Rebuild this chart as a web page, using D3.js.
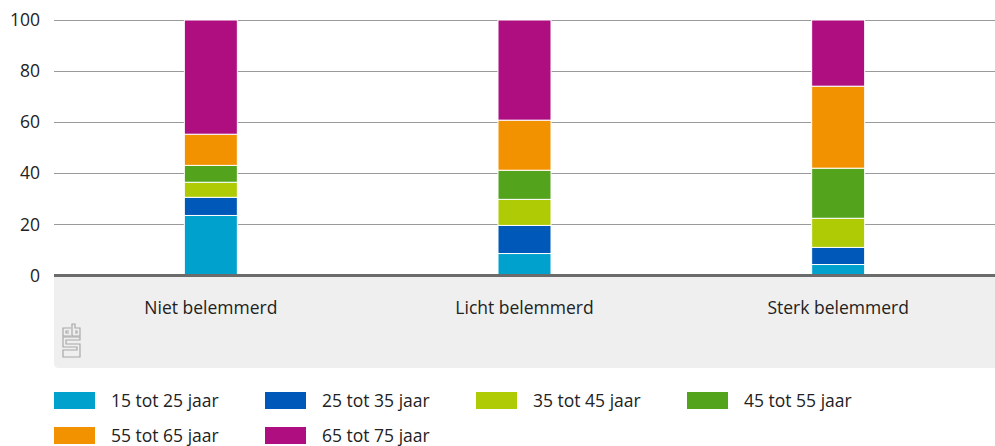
<!DOCTYPE html>
<html>
<head>
<meta charset="utf-8">
<script src="https://cdn.jsdelivr.net/npm/d3@7"></script>
<style>
  body { margin: 0; background: #fff; }
  svg { display: block; font-family: "Open Sans", Roboto, sans-serif; }
</style>
</head>
<body>
<div id="chart"></div>
<script>
// categories and series (percentages)
var categories = ["Niet belemmerd", "Licht belemmerd", "Sterk belemmerd"];
var seriesNames = ["15 tot 25 jaar", "25 tot 35 jaar", "35 tot 45 jaar", "45 tot 55 jaar", "55 tot 65 jaar", "65 tot 75 jaar"];
var age15_25 = [23.5, 8.6, 4.3];
var age25_35 = [7.1, 11.0, 6.7];
var age35_45 = [5.9, 10.2, 11.4];
var age45_55 = [6.6, 11.4, 19.6];
var age55_65 = [12.2, 19.6, 32.1];
var age65_75 = [44.7, 39.2, 25.9];
var yTicks = [0, 20, 40, 60, 80, 100];
var colors = ["#00a1cd", "#0058b8", "#afcb05", "#53a31d", "#f39200", "#af0e80"];

var allSeries = [age15_25, age25_35, age35_45, age45_55, age55_65, age65_75];
var rows = categories.map(function(c, i) {
  var r = {cat: c};
  seriesNames.forEach(function(s, j) { r[s] = allSeries[j][i]; });
  return r;
});

var width = 995, height = 446;
var margin = {top: 20, right: 0, bottom: 171, left: 54};
var fs = 17.5;

var svg = d3.select("#chart").append("svg")
  .attr("width", width)
  .attr("height", height);

var x = d3.scaleBand()
  .domain(categories)
  .range([margin.left, width - margin.right]);
var y = d3.scaleLinear()
  .domain([0, 100])
  .range([height - margin.bottom + 0.5, margin.top]);

// grey panel under the axis
var panelTop = y(0) + 1;
svg.append("path")
  .attr("fill", "#efefef")
  .attr("d", function() {
    var x0 = margin.left, x1 = width, y0 = panelTop, y1 = 368, r = 5;
    return "M" + x0 + "," + y0 + "H" + x1 + "V" + y1 + "H" + (x0 + r) +
      "Q" + x0 + "," + y1 + " " + x0 + "," + (y1 - r) + "Z";
  });

// gridlines
svg.append("g")
  .selectAll("line")
  .data(yTicks.filter(function(d) { return d > 0; }))
  .join("line")
  .attr("x1", margin.left)
  .attr("x2", width)
  .attr("y1", function(d) { return Math.round(y(d)) + 0.5; })
  .attr("y2", function(d) { return Math.round(y(d)) + 0.5; })
  .attr("stroke", "#9a9a9a")
  .attr("stroke-width", 1);

// y tick labels
svg.append("g")
  .selectAll("text")
  .data(yTicks)
  .join("text")
  .attr("x", 40)
  .attr("y", function(d) { return y(d); })
  .attr("dy", "0.35em")
  .attr("text-anchor", "end")
  .attr("font-size", fs)
  .attr("fill", "#222")
  .text(function(d) { return d; });

// stacked bars
var stack = d3.stack().keys(seriesNames)(rows);
var barW = 53;
svg.append("g")
  .selectAll("g")
  .data(stack)
  .join("g")
  .attr("fill", function(d, i) { return colors[i]; })
  .selectAll("rect")
  .data(function(d) { return d; })
  .join("rect")
  .attr("x", function(d) { return x(d.data.cat) + x.bandwidth() / 2 - barW / 2; })
  .attr("width", barW)
  .attr("y", function(d) { return y(d[1]); })
  .attr("height", function(d) { return y(d[0]) - y(d[1]); })
  .attr("stroke", "#fff")
  .attr("stroke-width", 1);

// baseline
svg.append("line")
  .attr("x1", margin.left)
  .attr("x2", width)
  .attr("y1", y(0))
  .attr("y2", y(0))
  .attr("stroke", "#6b6b6b")
  .attr("stroke-width", 3);

// category labels
svg.append("g")
  .selectAll("text")
  .data(categories)
  .join("text")
  .attr("x", function(d) { return x(d) + x.bandwidth() / 2; })
  .attr("y", 308)
  .attr("dy", "0.35em")
  .attr("text-anchor", "middle")
  .attr("font-size", fs)
  .attr("fill", "#222")
  .text(function(d) { return d; });

// cbs logo (rough outline)
var logo = svg.append("g")
  .attr("transform", "translate(63,324)")
  .attr("fill", "none")
  .attr("stroke", "#a8a8a8")
  .attr("stroke-width", 1.2);
logo.append("path").attr("d", "M8,4H0V12H8 M6,7H3V9H6");
logo.append("path").attr("d", "M9,0V12H17V4H12V0Z M12,7H14V9H12");
logo.append("path").attr("d", "M17,13H0V23H14V26H0V33H17V20H3V16H17Z");

// legend
var legend = svg.append("g")
  .selectAll("g")
  .data(seriesNames)
  .join("g")
  .attr("transform", function(d, i) {
    return "translate(" + (54 + (i % 4) * 211) + "," + (392 + Math.floor(i / 4) * 35) + ")";
  });
legend.append("rect")
  .attr("width", 41)
  .attr("height", 17)
  .attr("fill", function(d, i) { return colors[i]; });
legend.append("text")
  .attr("x", 57)
  .attr("y", 9)
  .attr("dy", "0.35em")
  .attr("font-size", fs)
  .attr("fill", "#222")
  .text(function(d) { return d; });
</script>
</body>
</html>
